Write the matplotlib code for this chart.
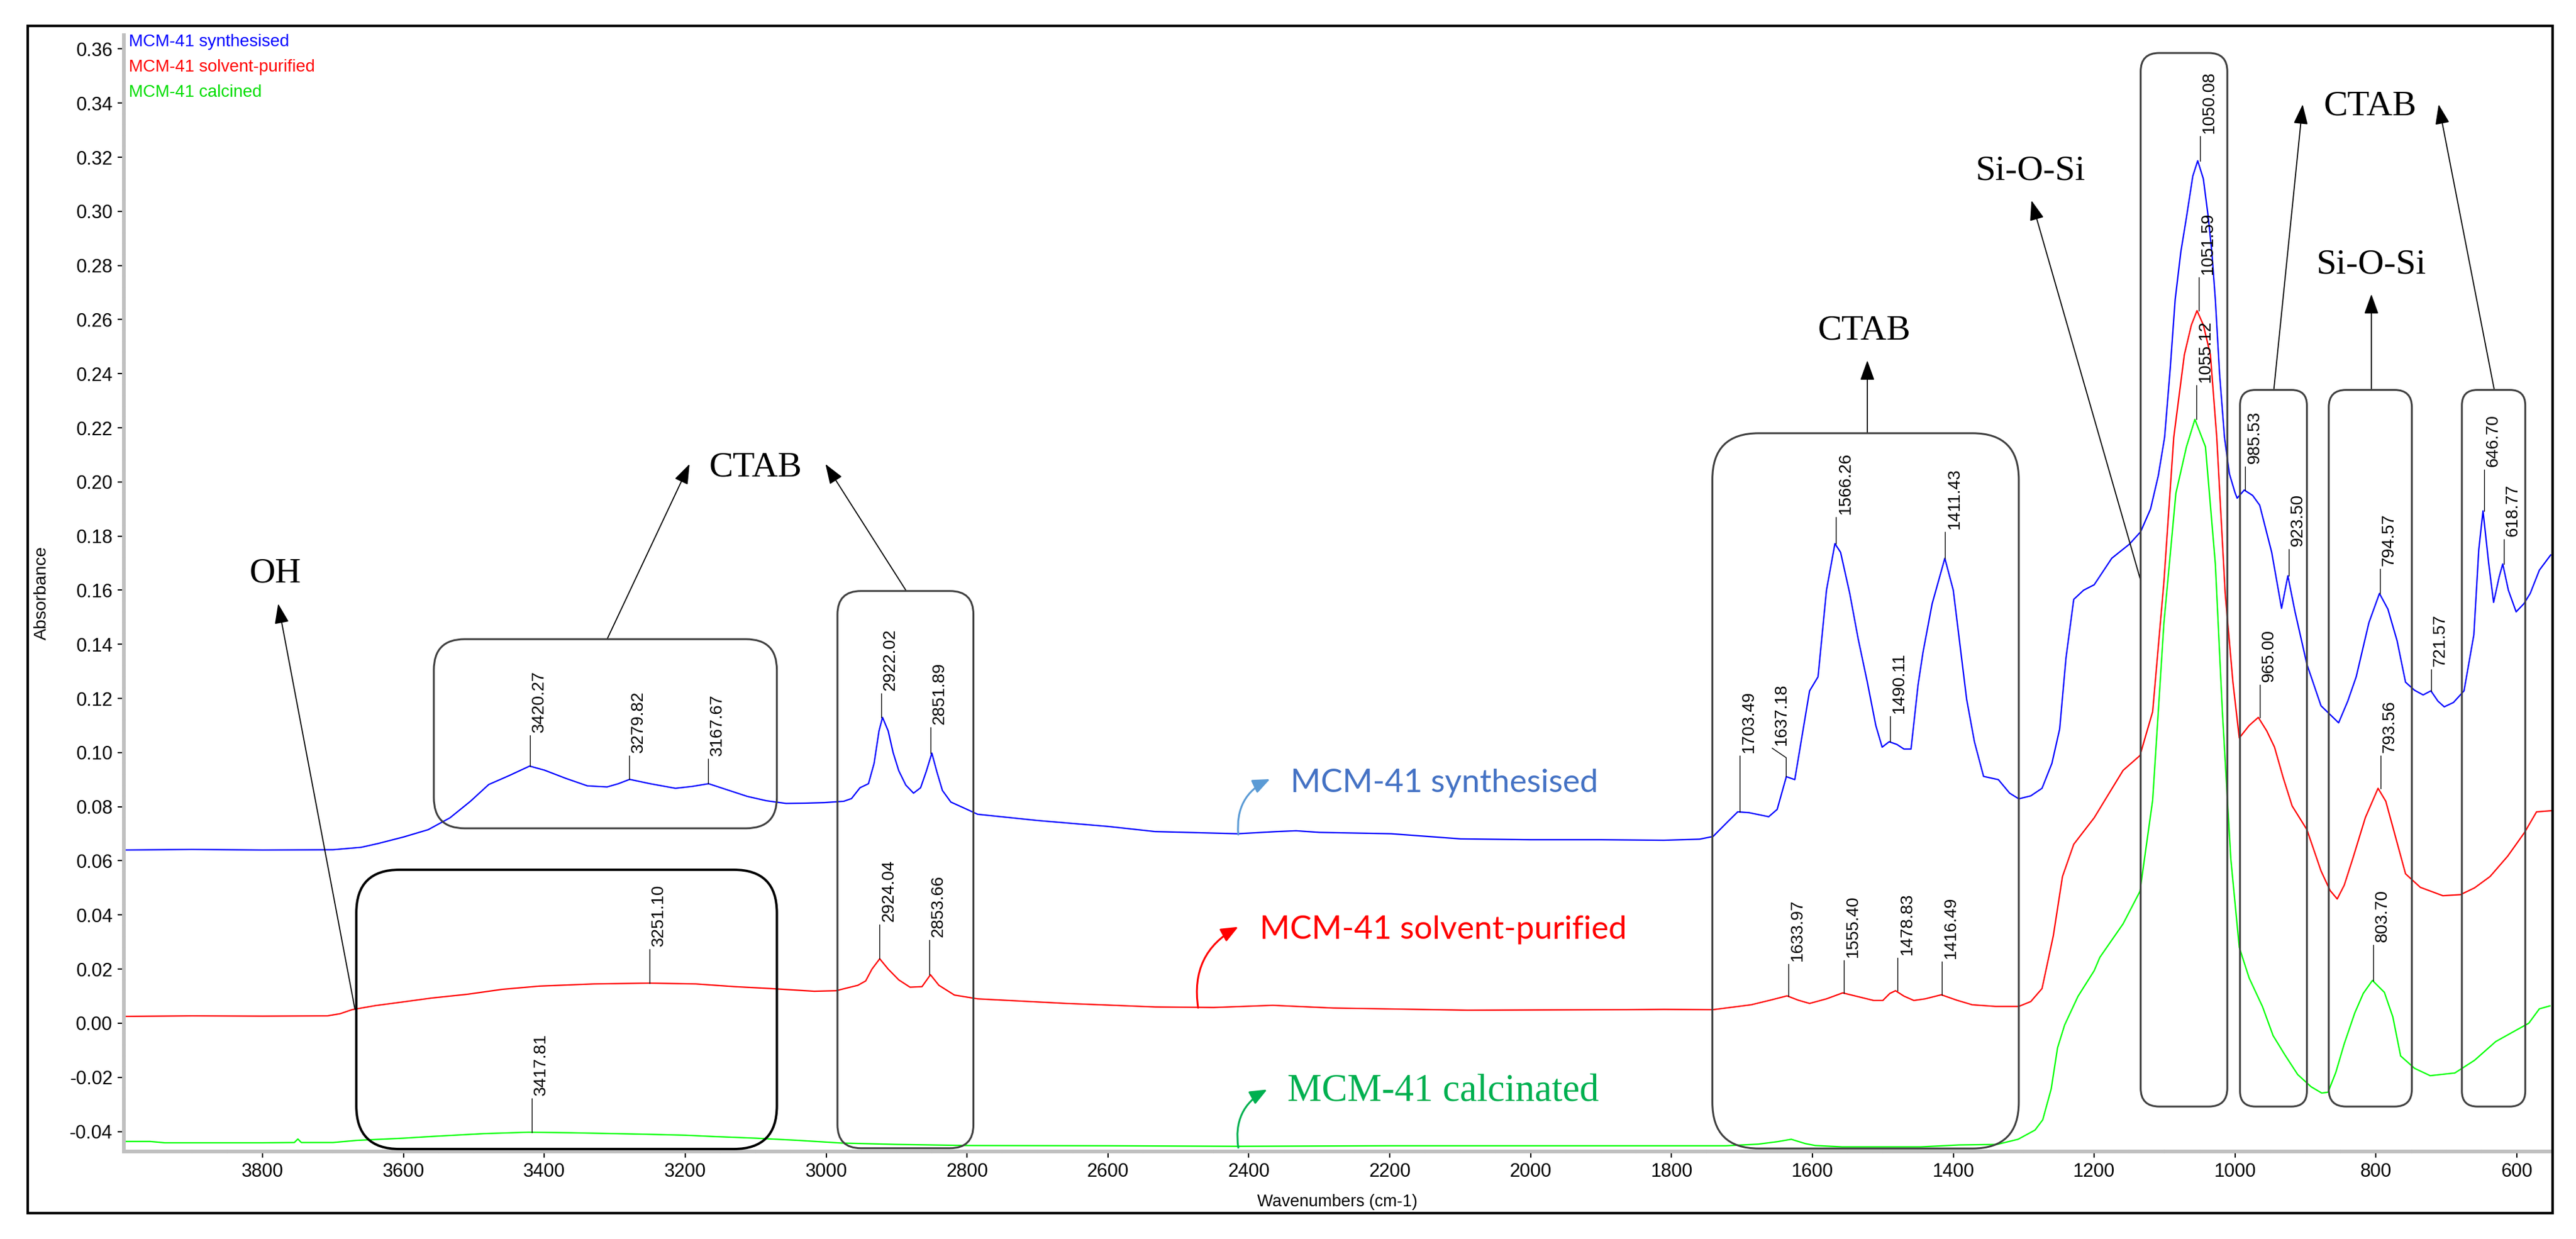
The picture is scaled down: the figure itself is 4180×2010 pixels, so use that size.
import numpy as np
import matplotlib.pyplot as plt
from matplotlib.patches import FancyBboxPatch, Rectangle
from matplotlib.transforms import IdentityTransform
from matplotlib.ticker import MultipleLocator, FormatStrFormatter

plt.rcParams['axes.unicode_minus'] = False

# ---- spectra: wavenumber (cm-1) / absorbance ----
syn_wn = [3997, 3900, 3800, 3700, 3660, 3636, 3600, 3565, 3534, 3505, 3479, 3450,
          3421, 3400, 3370, 3339, 3311, 3295, 3279, 3250, 3214, 3190, 3167, 3140,
          3112, 3085, 3057, 3030, 3003, 2975, 2964, 2952, 2940, 2932, 2925, 2920,
          2912, 2905, 2897, 2887, 2876, 2866, 2858, 2850, 2843, 2835, 2823, 2800,
          2785, 2700, 2600, 2533, 2416, 2360, 2333, 2300, 2198, 2099, 2000, 1900,
          1811, 1760, 1741, 1720, 1706, 1690, 1662, 1650, 1637, 1625, 1604, 1592,
          1580, 1568, 1560, 1547, 1535, 1522, 1510, 1501, 1491, 1480, 1470, 1460,
          1450, 1443, 1430, 1412, 1400, 1381, 1370, 1357, 1336, 1320, 1307, 1290,
          1274, 1260, 1249, 1240, 1229, 1215, 1200, 1175, 1150, 1134, 1120, 1109,
          1100, 1092, 1085, 1077, 1069, 1060, 1053, 1045, 1038, 1033, 1028, 1022,
          1015, 1008, 1000, 997, 987, 975, 965, 948, 934, 925, 915, 898, 878, 853,
          840, 828, 810, 795, 783, 770, 758, 745, 733, 722, 712, 703, 690, 675,
          661, 654, 648, 640, 633, 625, 620, 612, 601, 590, 581, 568, 552]
syn_abs = [0.0640, 0.0642, 0.0640, 0.0641, 0.0650, 0.0664, 0.0688, 0.0715, 0.0759,
           0.0820, 0.0882, 0.0915, 0.0950, 0.0935, 0.0905, 0.0877, 0.0873, 0.0885,
           0.0901, 0.0885, 0.0868, 0.0875, 0.0885, 0.0862, 0.0838, 0.0822, 0.0812,
           0.0813, 0.0815, 0.0820, 0.0830, 0.0870, 0.0885, 0.0960, 0.1080, 0.1130,
           0.1080, 0.1000, 0.0933, 0.0880, 0.0850, 0.0870, 0.0930, 0.0998, 0.0930,
           0.0860, 0.0817, 0.0790, 0.0772, 0.0749, 0.0727, 0.0708, 0.0700, 0.0708,
           0.0711, 0.0705, 0.0700, 0.0681, 0.0678, 0.0678, 0.0676, 0.0680, 0.0690,
           0.0745, 0.0781, 0.0778, 0.0763, 0.0790, 0.0911, 0.0900, 0.1228, 0.1280,
           0.1600, 0.1772, 0.1740, 0.1588, 0.1420, 0.1260, 0.1100, 0.1020, 0.1040,
           0.1030, 0.1013, 0.1013, 0.1250, 0.1370, 0.1550, 0.1718, 0.1600, 0.1196,
           0.1040, 0.0912, 0.0900, 0.0850, 0.0829, 0.0840, 0.0868, 0.0960, 0.1087,
           0.1350, 0.1566, 0.1600, 0.1620, 0.1718, 0.1770, 0.1816, 0.1900, 0.2023,
           0.2165, 0.2420, 0.2674, 0.2850, 0.2978, 0.3130, 0.3187, 0.3120, 0.2978,
           0.2850, 0.2674, 0.2400, 0.2165, 0.2030, 0.1960, 0.1940, 0.1970, 0.1950,
           0.1914, 0.1740, 0.1533, 0.1653, 0.1522, 0.1326, 0.1173, 0.1110, 0.1190,
           0.1280, 0.1480, 0.1588, 0.1530, 0.1413, 0.1260, 0.1230, 0.1213, 0.1228,
           0.1190, 0.1169, 0.1185, 0.1228, 0.1435, 0.1750, 0.1893, 0.1700, 0.1555,
           0.1650, 0.1697, 0.1600, 0.1520, 0.1550, 0.1588, 0.1674, 0.1730]

pur_wn = [3997, 3900, 3800, 3708, 3690, 3673, 3640, 3611, 3560, 3509, 3460, 3407,
          3330, 3251, 3185, 3130, 3079, 3017, 2986, 2955, 2944, 2935, 2924, 2912,
          2897, 2881, 2864, 2852, 2840, 2818, 2785, 2659, 2533, 2450, 2366, 2280,
          2090, 1864, 1811, 1741, 1687, 1660, 1636, 1620, 1604, 1580, 1557, 1535,
          1513, 1500, 1490, 1482, 1470, 1456, 1440, 1417, 1395, 1373, 1340, 1307,
          1290, 1274, 1258, 1245, 1229, 1200, 1159, 1135, 1117, 1101, 1087, 1072,
          1062, 1054, 1045, 1035, 1026, 1014, 1003, 994, 980, 967, 955, 944, 932,
          919, 898, 878, 865, 855, 845, 833, 815, 797, 786, 775, 758, 737, 705,
          680, 660, 638, 613, 589, 572, 552]
pur_abs = [0.0025, 0.0027, 0.0026, 0.0027, 0.0035, 0.0050, 0.0065, 0.0075, 0.0093,
           0.0107, 0.0125, 0.0137, 0.0145, 0.0148, 0.0145, 0.0135, 0.0128, 0.0118,
           0.0120, 0.0140, 0.0156, 0.0200, 0.0238, 0.0200, 0.0160, 0.0133, 0.0135,
           0.0179, 0.0140, 0.0104, 0.0090, 0.0073, 0.0060, 0.0058, 0.0066, 0.0056,
           0.0048, 0.0050, 0.0051, 0.0050, 0.0068, 0.0085, 0.0101, 0.0085, 0.0073,
           0.0090, 0.0112, 0.0098, 0.0084, 0.0084, 0.0110, 0.0120, 0.0100, 0.0084,
           0.0090, 0.0105, 0.0085, 0.0068, 0.0062, 0.0062, 0.0080, 0.0128, 0.0323,
           0.0542, 0.0661, 0.0759, 0.0934, 0.0989, 0.1151, 0.1630, 0.2165, 0.2470,
           0.2580, 0.2633, 0.2580, 0.2470, 0.2165, 0.1588, 0.1260, 0.1054, 0.1100,
           0.1130, 0.1080, 0.1020, 0.0910, 0.0803, 0.0715, 0.0563, 0.0490, 0.0459,
           0.0510, 0.0607, 0.0760, 0.0868, 0.0820, 0.0715, 0.0552, 0.0502, 0.0471,
           0.0475, 0.0500, 0.0542, 0.0617, 0.0705, 0.0781, 0.0785]

cal_wn = [3997, 3960, 3939, 3800, 3755, 3750, 3745, 3700, 3666, 3600, 3556, 3485,
          3423, 3361, 3263, 3200, 3158, 3100, 3040, 2978, 2900, 2800, 2600, 2416,
          2200, 2000, 1800, 1723, 1677, 1650, 1630, 1610, 1596, 1558, 1446, 1392,
          1338, 1308, 1284, 1273, 1261, 1252, 1242, 1223, 1200, 1192, 1159, 1135,
          1117, 1101, 1084, 1069, 1057, 1042, 1028, 1018, 1006, 994, 980, 961, 946,
          930, 911, 892, 877, 868, 857, 845, 830, 818, 805, 788, 776, 765, 745,
          723, 688, 660, 630, 599, 583, 568, 553]
cal_abs = [-0.0437, -0.0437, -0.0442, -0.0442, -0.0441, -0.0428, -0.0441, -0.0441,
           -0.0433, -0.0425, -0.0418, -0.0408, -0.0403, -0.0405, -0.0410, -0.0414,
           -0.0419, -0.0425, -0.0433, -0.0443, -0.0448, -0.0452, -0.0453, -0.0455,
           -0.0453, -0.0453, -0.0453, -0.0453, -0.0447, -0.0438, -0.0429, -0.0445,
           -0.0452, -0.0457, -0.0457, -0.0450, -0.0448, -0.0429, -0.0395, -0.0357,
           -0.0243, -0.0091, -0.0007, 0.0099, 0.0194, 0.0243, 0.0367, 0.0487,
           0.0824, 0.1478, 0.1958, 0.2130, 0.2231, 0.2130, 0.1697, 0.1151, 0.0607,
           0.0280, 0.0167, 0.0061, -0.0046, -0.0114, -0.0190, -0.0235, -0.0258,
           -0.0255, -0.0182, -0.0076, 0.0038, 0.0110, 0.0158, 0.0114, 0.0023,
           -0.0121, -0.0167, -0.0194, -0.0184, -0.0137, -0.0068, -0.0023, 0.0000,
           0.0053, 0.0064]

# ---- peak labels ----
syn_peaks = [3420.27, 3279.82, 3167.67, 2922.02, 2851.89, 1703.49, 1637.18, 1566.26,
             1490.11, 1411.43, 1050.08, 985.53, 923.50, 794.57, 721.57, 646.70, 618.77]
syn_peak_abs = [0.0950, 0.0901, 0.0885, 0.1130, 0.0998, 0.0781, 0.0911, 0.1772,
                0.1040, 0.1718, 0.3187, 0.1970, 0.1653, 0.1588, 0.1228, 0.1893, 0.1697]
syn_leader_top = [0.1064, 0.0989, 0.0977, 0.1219, 0.1092, 0.0989, 0.0981, 0.1870,
                  0.1134, 0.1816, 0.3278, 0.2056, 0.1751, 0.1679, 0.1308, 0.2045, 0.1788]

pur_peaks = [3251.10, 2924.04, 2853.66, 1633.97, 1555.40, 1478.83, 1416.49,
             1051.59, 965.00, 793.56]
pur_peak_abs = [0.0148, 0.0238, 0.0179, 0.0101, 0.0112, 0.0120, 0.0105,
                0.2633, 0.1130, 0.0868]
pur_leader_top = [0.0272, 0.0365, 0.0307, 0.0219, 0.0232, 0.0241, 0.0228,
                  0.2755, 0.1250, 0.0989]

cal_peaks = [3417.81, 1055.12, 803.70]
cal_peak_abs = [-0.0403, 0.2231, 0.0158]
cal_leader_top = [-0.0277, 0.2358, 0.0290]

names = ["MCM-41 synthesised", "MCM-41 solvent-purified", "MCM-41 calcined"]

W, H = 4180, 2010
fig = plt.figure(figsize=(W / 100, H / 100), dpi=100)
ax = fig.add_axes([201 / W, 1 - 1868 / H, (4140 - 201) / W, (1868 - 57) / H])

ax.plot(syn_wn, syn_abs, color='#0000ff', lw=1.6, zorder=2)
ax.plot(pur_wn, pur_abs, color='#ff0000', lw=1.6, zorder=2)
ax.plot(cal_wn, cal_abs, color='#00ff00', lw=1.6, zorder=2)

ax.set_xlim(3997, 551)
ax.set_ylim(-0.0474, 0.3651)

# axes look (OMNIC style)
for s in ['top', 'right']:
    ax.spines[s].set_visible(False)
for s in ['left', 'bottom']:
    ax.spines[s].set_color('#c0c0c0')
    ax.spines[s].set_linewidth(4.3)
ax.set_xticks(np.arange(3800, 500, -200))
ax.xaxis.set_minor_locator(MultipleLocator(50))
ax.set_yticks(np.arange(-0.04, 0.3601, 0.02))
ax.yaxis.set_minor_locator(MultipleLocator(0.004))
ax.yaxis.set_major_formatter(FormatStrFormatter('%.2f'))
tick_font = ['Liberation Sans Narrow', 'Liberation Sans']
ax.tick_params(which='major', length=7, width=1.5, color='black', direction='out',
               labelsize=22, pad=6)
ax.tick_params(which='minor', length=4, width=1.5, color='black', direction='inout')
for lab in ax.get_xticklabels() + ax.get_yticklabels():
    lab.set_family(tick_font)

fig.text(2170 / W, 1 - 1950 / H, "Wavenumbers (cm-1)", ha='center', va='center',
         fontsize=19.5, family='Liberation Sans')
fig.text(68 / W, 1 - 962 / H, "Absorbance", ha='center', va='center', rotation=90,
         fontsize=20.5, family='Liberation Sans')

# legend text at top left
for i, (n, c) in enumerate(zip(names, ['#0000ff', '#ff0000', '#00dd00'])):
    fig.text(209 / W, 1 - (68 + 41 * i) / H, n, color=c, ha='left', va='center',
             fontsize=20, family=tick_font)

# outer frame
fig.add_artist(Rectangle((45 / W, 1 - 1968 / H), (4142 - 45) / W, (1968 - 42) / H,
                         transform=fig.transFigure, fill=False, lw=3, edgecolor='black'))


def peak_labels(peaks, heights, tops, kink=None):
    for p, a, t in zip(peaks, heights, tops):
        if kink and p in kink:
            ax.plot([p, p, kink[p]], [a, t, t + 0.0035], color='k', lw=1.0, zorder=5)
            px, pt = kink[p], t + 0.0035
        else:
            ax.plot([p, p], [a, t], color='k', lw=1.0, zorder=5)
            px, pt = p, t
        ax.annotate(f"{p:.2f}", xy=(px, pt), xytext=(2, 5), textcoords='offset pixels',
                    rotation=90, ha='left', va='bottom', fontsize=20,
                    family='Liberation Sans', zorder=6)


peak_labels(syn_peaks, syn_peak_abs, syn_leader_top, kink={1637.18: 1657})
peak_labels(pur_peaks, pur_peak_abs, pur_leader_top)
peak_labels(cal_peaks, cal_peak_abs, cal_leader_top)


# rounded boxes, drawn in pixel space so the corners stay round
def rbox(w1, w2, v1, v2, r, color='#404040', lw=2.2):
    x1, y1 = ax.transData.transform((w1, v1))
    x2, y2 = ax.transData.transform((w2, v2))
    x0, y0 = min(x1, x2), min(y1, y2)
    p = FancyBboxPatch((x0, y0), abs(x2 - x1), abs(y2 - y1),
                       boxstyle=f"round,pad=0,rounding_size={r}",
                       transform=IdentityTransform(), fill=False, edgecolor=color,
                       linewidth=lw, clip_on=False, zorder=4)
    fig.add_artist(p)


rbox(3557, 3070, 0.0720, 0.1419, 50)
rbox(3667, 3070, -0.0465, 0.0567, 70, color='black', lw=2.8)
rbox(2984, 2791, -0.0462, 0.1597, 38)
rbox(1742, 1307, -0.0463, 0.2180, 75)
rbox(1134, 1011, -0.0308, 0.3585, 30)
rbox(993, 898, -0.0308, 0.2340, 25)
rbox(867, 749, -0.0308, 0.2340, 28)
rbox(678, 588, -0.0308, 0.2340, 25)

# black assignment arrows
arrows = [((3669, 0.0052), (3778, 0.1550)),
          ((3311, 0.1419), (3194, 0.2066)),
          ((2887, 0.1600), (3001, 0.2066)),
          ((1522, 0.2180), (1522, 0.2449)),
          ((1134, 0.1636), (1289, 0.3040)),
          ((945, 0.2340), (904, 0.3395)),
          ((632, 0.2340), (711, 0.3395)),
          ((806.5, 0.2340), (806.5, 0.2694))]
for tail, head in arrows:
    ax.annotate('', xy=head, xytext=tail, zorder=5,
                arrowprops=dict(arrowstyle='-|>,head_length=0.5,head_width=0.18',
                                mutation_scale=40, color='black', lw=1.3,
                                shrinkA=0, shrinkB=0))

serif = 'Liberation Serif'
for txt, w, v in [("OH", 3782, 0.1630), ("CTAB", 3100, 0.2022), ("CTAB", 1526, 0.2528),
                  ("Si-O-Si", 1291, 0.3116), ("CTAB", 808, 0.3355),
                  ("Si-O-Si", 807, 0.2770)]:
    ax.text(w, v, txt, ha='center', va='baseline', fontsize=42, family=serif, zorder=6)

# series names with curved pointers
ax.text(2341, 0.0853, "MCM-41 synthesised", color='#4472C4', fontsize=38,
        family='Lato', ha='left', va='baseline')
ax.text(2385, 0.0311, "MCM-41 solvent-purified", color='#ff0000', fontsize=38,
        family='Lato', ha='left', va='baseline')
ax.text(2345, -0.0289, "MCM-41 calcinated", color='#00B050', fontsize=45,
        family=serif, ha='left', va='baseline')
for tail, head, c in [((2415, 0.0697), (2370, 0.0902), '#5B9BD5'),
                      ((2472, 0.0057), (2415, 0.0356), '#ff0000'),
                      ((2415, -0.0460), (2374, -0.0245), '#00B050')]:
    ax.annotate('', xy=head, xytext=tail, zorder=5,
                arrowprops=dict(arrowstyle='-|>,head_length=0.6,head_width=0.25',
                                mutation_scale=28, color=c, lw=2.2,
                                connectionstyle='arc3,rad=-0.35',
                                shrinkA=0, shrinkB=0))

fig.savefig("out.png", dpi=100)
